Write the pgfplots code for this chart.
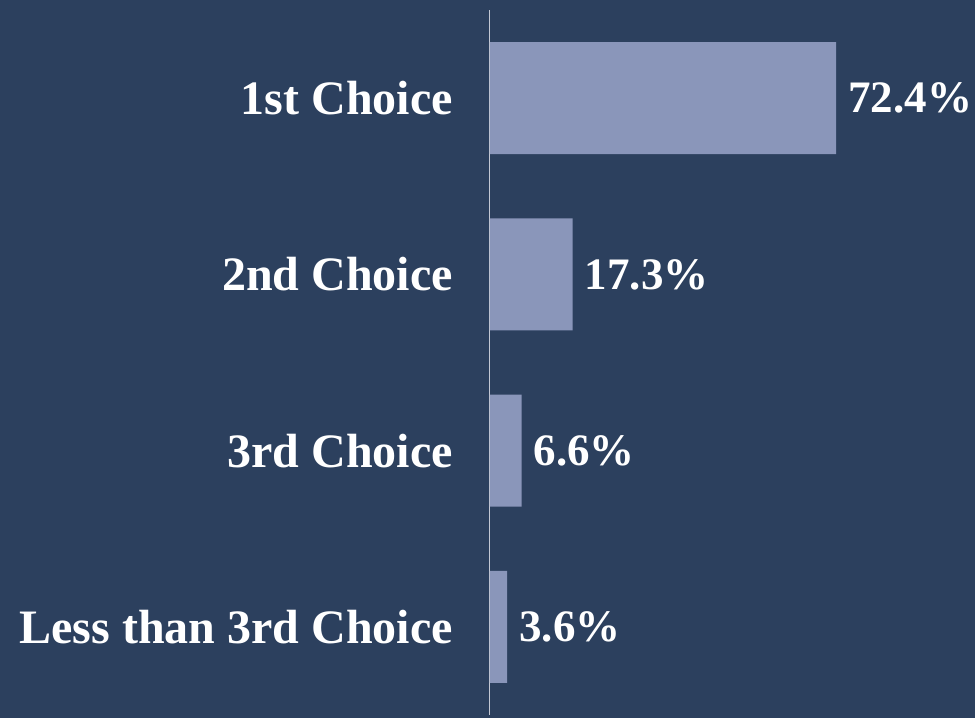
\documentclass[border=0pt]{standalone}
\usepackage{pgfplots}
\pgfplotsset{compat=1.18}
\usepackage{fontspec}
\setmainfont{Liberation Serif}
\definecolor{bg}{HTML}{2C405E}
\definecolor{barc}{HTML}{8A96BA}
\definecolor{axc}{HTML}{C4C8D4}
\begin{document}
\begin{tikzpicture}[x=1pt,y=1pt]
\useasboundingbox (0,0) rectangle (975,718);
\fill[bg] (0,0) rectangle (975,718);
\begin{axis}[
  at={(490pt,3pt)}, anchor=south west,
  scale only axis, width=478pt, height=705pt,
  xmin=0, xmax=100, ymin=-0.5, ymax=3.5,
  y dir=reverse,
  axis x line=none,
  axis y line*=left,
  y axis line style={color=axc, line width=1pt},
  ytick={0,1,2,3},
  yticklabels={1st Choice,2nd Choice,3rd Choice,Less than 3rd Choice},
  major tick length=0pt,
  ytick style={draw=none},
  yticklabel style={font=\fontsize{48}{54}\selectfont\bfseries, color=white, inner sep=0pt, xshift=-37pt},
  xbar, bar width=112pt,
  clip=false,
  nodes near coords={\pgfmathprintnumber[fixed,precision=1,fixed zerofill,assume math mode=true]{\pgfplotspointmeta}\%},
  nodes near coords style={font=\fontsize{45}{50}\selectfont\bfseries, color=white, anchor=west, inner sep=0pt, xshift=12pt},
  point meta=x,
]
\addplot[fill=barc, draw=none] coordinates {(72.4,0) (17.3,1) (6.6,2) (3.6,3)};
\end{axis}
\end{tikzpicture}
\end{document}
